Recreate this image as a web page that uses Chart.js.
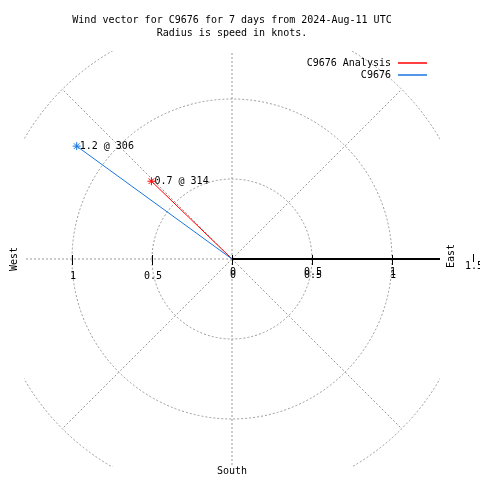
<!DOCTYPE html>
<html>
<head>
<meta charset="utf-8">
<script src="https://cdn.jsdelivr.net/npm/chart.js@4.4.1/dist/chart.umd.min.js"></script>
<style>
  html, body { margin: 0; padding: 0; background: #fff; }
  #wrap { width: 480px; height: 480px; }
</style>
</head>
<body>
<div id="wrap"><canvas id="chart_wind"></canvas></div>
<script>
// series
const seriesNames = ["C9676 Analysis", "C9676"];
const speeds = [0.7, 1.2]; // knots
const directions = [314, 306]; // degrees, clockwise from north
const radiusTicks = [0, 0.5, 1, 1.5];
const compassLabels = ["East", "South", "West"];
const titleLines = [
  "Wind vector for C9676 for 7 days from 2024-Aug-11 UTC",
  "Radius is speed in knots.",
];

const seriesColors = ["#ff0000", "#1a75e0"];
const gridColor = "#999999";
const FONT = "11px 'DejaVu Sans Mono', 'Liberation Mono', monospace";

function toXY(speed, dir) {
  const a = (dir * Math.PI) / 180;
  return { x: speed * Math.sin(a), y: speed * Math.cos(a) };
}

// narrow, tall-ish text like the original bitmap font
function label(ctx, str, x, y, rot) {
  ctx.save();
  ctx.translate(x, y);
  if (rot) ctx.rotate(rot);
  ctx.scale(0.91, 1);
  ctx.fillText(str, 0, 0);
  ctx.restore();
}

const datasets = seriesNames.map((name, i) => ({
  label: name,
  data: [{ x: 0, y: 0 }, toXY(speeds[i], directions[i])],
  showLine: true,
  borderColor: seriesColors[i],
  backgroundColor: seriesColors[i],
  borderWidth: 1,
  pointStyle: "star",
  pointRadius: [0, 4],
  pointBorderWidth: 1,
  order: seriesNames.length - i, // blue on top
}));

const polarGrid = {
  id: "polarGrid",
  beforeDatasetsDraw(chart) {
    const { ctx, chartArea: area, scales } = chart;
    const cx = scales.x.getPixelForValue(0);
    const cy = scales.y.getPixelForValue(0);
    const unit = scales.x.getPixelForValue(1) - cx;
    const rMax = radiusTicks[radiusTicks.length - 1];

    ctx.save();
    ctx.beginPath();
    ctx.rect(area.left, area.top, area.right - area.left, area.bottom - area.top);
    ctx.clip();
    ctx.strokeStyle = gridColor;
    ctx.lineWidth = 1;
    ctx.setLineDash([2, 2]);
    // rings
    radiusTicks.slice(1).forEach((r) => {
      ctx.beginPath();
      ctx.arc(cx, cy, r * unit, 0, Math.PI * 2);
      ctx.stroke();
    });
    // spokes every 45 degrees
    for (let d = 0; d < 360; d += 45) {
      const p = toXY(rMax, d);
      ctx.beginPath();
      ctx.moveTo(cx, cy);
      ctx.lineTo(scales.x.getPixelForValue(p.x), scales.y.getPixelForValue(p.y));
      ctx.stroke();
    }
    ctx.restore();

    // east axis
    ctx.save();
    ctx.strokeStyle = "#000";
    ctx.lineWidth = 2;
    ctx.beginPath();
    ctx.moveTo(cx, cy);
    ctx.lineTo(area.right, cy);
    ctx.stroke();
    ctx.lineWidth = 1;
    radiusTicks.slice(0, 3).forEach((r) => {
      [1, -1].forEach((s) => {
        if (r === 0 && s < 0) return;
        const x = Math.round(scales.x.getPixelForValue(r * s)) + 0.5;
        ctx.beginPath();
        ctx.moveTo(x, cy - 4);
        ctx.lineTo(x, cy + 6);
        ctx.stroke();
      });
    });
    const x15 = Math.round(scales.x.getPixelForValue(rMax)) + 1.5;
    ctx.beginPath();
    ctx.moveTo(x15, cy - 5);
    ctx.lineTo(x15, cy + 3);
    ctx.stroke();

    ctx.fillStyle = "#000";
    ctx.font = FONT;
    ctx.textAlign = "center";
    ctx.textBaseline = "middle";
    // east side labels (drawn twice, as in the original)
    radiusTicks.slice(0, 3).forEach((r) => {
      const x = scales.x.getPixelForValue(r);
      label(ctx, String(r), x + 1, cy + 13);
      label(ctx, String(r), x + 1, cy + 16);
    });
    label(ctx, String(rMax), scales.x.getPixelForValue(rMax) + 2, cy + 7);
    // west side labels
    radiusTicks.slice(1, 3).forEach((r) => {
      label(ctx, String(r), scales.x.getPixelForValue(-r) + 1, cy + 17);
    });
    ctx.restore();
  },
  afterDatasetsDraw(chart) {
    const { ctx, scales } = chart;
    const cx = scales.x.getPixelForValue(0);
    const cy = scales.y.getPixelForValue(0);
    ctx.save();
    ctx.fillStyle = "#000";
    ctx.font = FONT;
    ctx.textBaseline = "middle";

    // vector end labels
    ctx.textAlign = "left";
    seriesNames.forEach((n, i) => {
      const p = toXY(speeds[i], directions[i]);
      label(
        ctx,
        speeds[i] + " @ " + directions[i],
        scales.x.getPixelForValue(p.x) + 3,
        scales.y.getPixelForValue(p.y) + 0
      );
    });

    // title
    ctx.textAlign = "center";
    label(ctx, titleLines[0], cx, 20);
    label(ctx, titleLines[1], cx, 33);

    // compass words
    label(ctx, compassLabels[1], cx, 471);
    label(ctx, compassLabels[0], 451, cy - 3, -Math.PI / 2);
    label(ctx, compassLabels[2], 14, cy, -Math.PI / 2);

    // legend, text then line
    ctx.textAlign = "right";
    seriesNames.forEach((n, i) => {
      const y = 63 + i * 12;
      label(ctx, n, 391, y);
      ctx.strokeStyle = seriesColors[i];
      ctx.lineWidth = 1.5;
      ctx.beginPath();
      ctx.moveTo(398, y);
      ctx.lineTo(427, y);
      ctx.stroke();
    });
    ctx.restore();
  },
};

const ctx = document.getElementById("chart_wind").getContext("2d");
new Chart(ctx, {
  type: "scatter",
  data: { datasets: datasets },
  options: {
    responsive: true,
    maintainAspectRatio: false,
    animation: false,
    layout: { padding: { left: 24, right: 40, top: 51, bottom: 13 } },
    scales: {
      x: { type: "linear", min: -1.3, max: 1.3, display: false },
      y: { type: "linear", min: -1.3, max: 1.3, display: false },
    },
    plugins: {
      legend: { display: false },
      title: { display: false },
      tooltip: { enabled: false },
    },
  },
  plugins: [polarGrid],
});
</script>
</body>
</html>
